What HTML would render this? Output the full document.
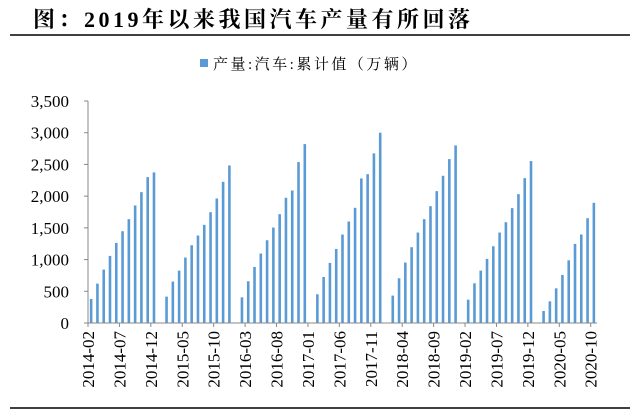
<!DOCTYPE html>
<html><head><meta charset="utf-8"><style>
html,body{margin:0;padding:0;background:#fff;}
svg{display:block;font-family:"Liberation Serif","Noto Serif CJK SC",serif;}
</style></head><body>
<svg id="chart" width="640" height="410">
<text x="33" y="27" font-size="22" font-weight="bold" letter-spacing="3.5" fill="#000">图：2019年以来我国汽车产量有所回落</text>
<line x1="10" y1="35" x2="630" y2="35" stroke="#000" stroke-width="1.5"/>
<g>
<rect x="200" y="59" width="8" height="8" fill="#5b9bd5"/>
<text x="213" y="69" font-size="15" letter-spacing="2.5" fill="#000">产量:汽车:累计值（万辆）</text>
</g>
<line x1="10" y1="408" x2="630" y2="408" stroke="#000" stroke-width="1.5"/>
<g id="yaxis"></g><g id="bars"></g><g id="xaxis"></g>
</svg>
<script>
const categories=[];
for(let y=2014;y<=2020;y++)for(let m=1;m<=12;m++){if((y===2014&&m<2)||(y===2020&&m>10))continue;categories.push(y+'-'+String(m).padStart(2,'0'));}
const values2014=[null,379,621,842,1058,1263,1447,1637,1853,2063,2300,2374];
const values2015=[null,416,653,826,1032,1226,1379,1547,1747,1963,2226,2484];
const values2016=[null,405,658,884,1095,1305,1505,1716,1974,2089,2537,2821];
const values2017=[null,453,726,947,1168,1395,1600,1816,2279,2347,2674,3000];
const values2018=[null,432,705,953,1195,1426,1637,1842,2079,2321,2584,2800];
const values2019=[null,368,626,826,1011,1210,1426,1589,1811,2032,2284,2553];
const values2020=[null,189,342,547,758,989,1247,1395,1653,1895];
const values=[].concat(values2014.slice(1),values2015,values2016,values2017,values2018,values2019,values2020);
const yTicks=[0,500,1000,1500,2000,2500,3000,3500];
const yTickLabels=['0','500','1,000','1,500','2,000','2,500','3,000','3,500'];
const NS='http://www.w3.org/2000/svg';
const x0=88,x1=597,yBase=323,yTop=101,yMax=3500;
const step=(x1-x0)/categories.length;
const xs=i=>x0+i*step;
const ys=v=>yBase-(v/yMax)*(yBase-yTop);
function mk(t,a,p){const e=document.createElementNS(NS,t);for(const k in a)e.setAttribute(k,a[k]);p.appendChild(e);return e;}
const ya=document.getElementById('yaxis');
mk('line',{x1:x0,y1:yTop,x2:x0,y2:yBase,stroke:'#888'},ya);
yTicks.forEach((v,i)=>{
 const t=mk('line',{x1:x0-4,y1:ys(v),x2:x0,y2:ys(v),stroke:'#888'},ya);
 
 
 const l=mk('text',{x:69,y:ys(v)+6,'font-size':17,'text-anchor':'end',fill:'#000'},ya);
 l.textContent=yTickLabels[i];
 
 
});
const bg=document.getElementById('bars');
values.forEach((v,i)=>{
 if(v==null)return;
 const r=mk('rect',{x:xs(i)+step/2-1.3,y:ys(v),width:2.6,height:yBase-ys(v),fill:'#5b9bd5'},bg);
 
 
});
const xa=document.getElementById('xaxis');
mk('line',{x1:x0,y1:yBase,x2:x1,y2:yBase,stroke:'#888'},xa);
categories.forEach((c,i)=>{
 if(i%5!==0)return;
 const x=xs(i);
 const t=mk('line',{x1:x,y1:yBase,x2:x,y2:yBase+4,stroke:'#888'},xa);
 
 
 const l=mk('text',{x:0,y:0,'font-size':17,'text-anchor':'end',fill:'#000',transform:'translate('+(x+6)+','+(yBase+8)+') rotate(-90)'},xa);
 l.textContent=c;
 
 
});
</script>
</body></html>
